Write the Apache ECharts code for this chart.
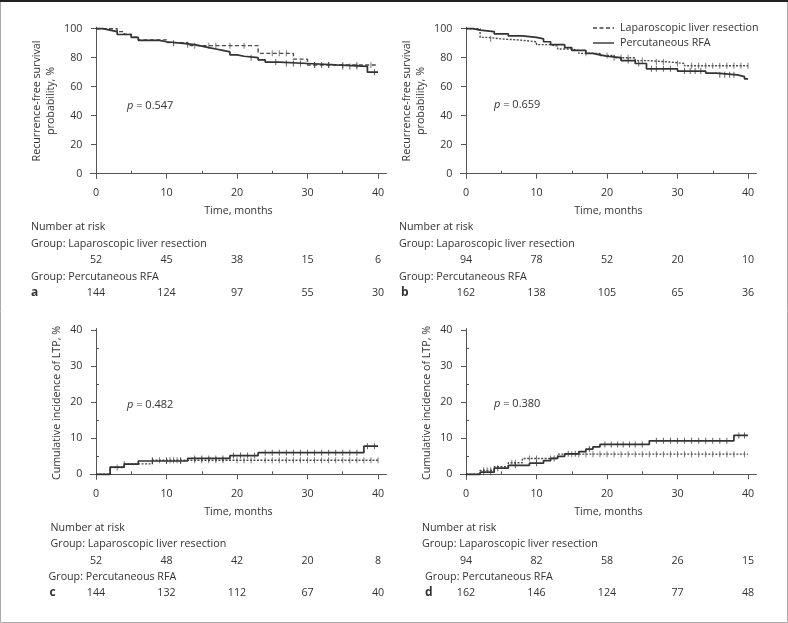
<!DOCTYPE html>
<html><head><meta charset="utf-8">
<script src="https://cdn.jsdelivr.net/npm/echarts@6/dist/echarts.min.js"></script>
<style>html,body{margin:0;padding:0;background:#fff}#c{width:788px;height:623px}</style>
</head><body><div id="c"></div>
<script>
// ---------- data ----------
const timeLabels = [0, 10, 20, 30, 40];
const timeMinor = [5, 15, 25, 35];
const rfsTicks = [0, 20, 40, 60, 80, 100];
const ltpTicks = [0, 10, 20, 30, 40];
const ltpMinor = [5, 15, 25, 35];

// Panel a: recurrence-free survival
const aLapT = [0, 3, 4, 5, 6, 10, 13, 23, 28, 30, 40];
const aLapV = [100, 98, 96.2, 94.2, 92.3, 90.4, 88.3, 83, 79, 75, 75];
const aRfaT = [0, 1, 2, 3, 5, 6, 9, 10, 12, 14, 15, 16, 17, 18, 19, 20, 21, 23, 24, 26, 30, 34, 38.5, 40];
const aRfaV = [100, 99, 98, 96, 94, 92, 91, 90, 89, 88, 87, 86, 85, 84, 82, 81, 80, 78.5, 77, 76, 75, 74, 70, 70];
const aLapC = [14, 16, 17, 19, 21, 25, 26, 27, 31, 33, 35, 37, 39];
const aRfaC = [11, 13, 22, 25.5, 27, 28, 29, 31, 32, 33, 35, 36, 37, 39.5];

// Panel b
const bLapT = [0, 2, 3, 5, 8, 10, 12, 13, 15, 16, 19, 21, 24, 26, 29, 31, 40];
const bLapV = [100, 94, 93, 92, 91, 89, 88, 86, 85, 83, 81.5, 80, 78, 77, 76, 74.5, 74.5];
const bRfaT = [0, 1, 2, 4, 6, 8, 10, 11, 12, 14, 15, 17, 18, 19, 20, 22, 24, 25.6, 30, 34, 35.5, 38.5, 39.5, 40];
const bRfaV = [100, 99, 98, 96.5, 95, 94, 93, 91, 89, 87, 85, 83, 82, 81, 80, 78, 76, 72.3, 70.8, 69.4, 68.2, 67, 65.4, 65.4];
const bLapC = [3.5, 17, 20, 22, 23, 25, 27, 28, 30, 32, 33, 34, 35, 36, 37, 38, 39, 40];
const bRfaC = [21, 23, 24.5, 26.3, 27, 28, 29, 31, 31.8, 32.5, 33.3, 36, 36.7, 37.4, 38];

// Panel c: cumulative incidence of LTP
const cLapT = [0, 2, 4, 8, 40];
const cLapV = [0, 1.9, 2.9, 3.9, 3.9];
const cRfaT = [0, 2, 4, 6, 13, 19, 23, 38, 40];
const cRfaV = [0, 2.0, 2.8, 3.7, 4.4, 5.2, 6.0, 7.8, 7.8];
const cLapC = [3, 8, 9, 10, 10.5, 11, 11.5, 12, 14, 15, 16, 17, 18, 20, 21, 22, 24, 25, 26, 27, 28, 29, 30, 31, 32, 33, 34, 35, 36, 37, 38, 39, 40];
const cRfaC = [4, 8, 10, 12, 14, 15, 16, 17, 18, 19.5, 20.5, 21.5, 22.5, 24, 25, 26, 27, 28, 29, 30, 31, 32, 33, 34, 35, 36, 37, 38.5, 39.5];

// Panel d
const dLapT = [0, 2, 4, 6, 8, 13, 40];
const dLapV = [0, 1.1, 2.1, 3.2, 4.4, 5.6, 5.6];
const dRfaT = [0, 2, 4, 6, 9, 11, 12, 13, 14, 16, 17, 18, 19, 26, 38, 40];
const dRfaV = [0, 0.6, 1.7, 2.5, 3.1, 3.8, 4.4, 5.0, 5.7, 6.3, 7.0, 7.6, 8.3, 9.3, 10.8, 10.8];
const dLapC = [2.5, 3, 3.5, 6.5, 7, 9, 10, 12, 15, 16, 17, 18, 19, 20, 21, 22, 23, 24, 25, 26, 27, 28, 29, 30, 31, 32, 33, 34, 35, 36, 37, 38, 39.5];
const dRfaC = [2.5, 3.5, 4.5, 7, 10, 12.5, 14.5, 15.5, 17.5, 19.7, 20.6, 21.5, 22.3, 23.2, 24, 25, 27, 28, 29, 30, 31, 32, 33, 34, 35, 36, 37, 38.7, 39.5];

// Numbers at risk
const riskA_lap = [52, 45, 38, 15, 6];
const riskA_rfa = [144, 124, 97, 55, 30];
const riskB_lap = [94, 78, 52, 20, 10];
const riskB_rfa = [162, 138, 105, 65, 36];
const riskC_lap = [52, 48, 42, 20, 8];
const riskC_rfa = [144, 132, 112, 67, 40];
const riskD_lap = [94, 82, 58, 26, 15];
const riskD_rfa = [162, 146, 124, 77, 48];

const pValues = ['0.547', '0.659', '0.482', '0.380'];
const panelLetters = ['a', 'b', 'c', 'd'];
const groupLap = 'Laparoscopic liver resection';
const groupRfa = 'Percutaneous RFA';

// ---------- layout ----------
const FONT = '"Open Sans", "Noto Sans", sans-serif';
const FS = 10.7;
const TXT = '#333';
const AX = '#555';
const pxm = 7.05;
const panels = [
  {x0: 96,  top: 27.25, h: 151.1, ymin: -3.2, ymax: 101, yt: rfsTicks, ym: null,
   lap: [aLapT, aLapV, aLapC], rfa: [aRfaT, aRfaV, aRfaC], dash: [4, 2.5], risk: [riskA_lap, riskA_rfa]},
  {x0: 466, top: 27.25, h: 151.1, ymin: -3.2, ymax: 101, yt: rfsTicks, ym: null,
   lap: [bLapT, bLapV, bLapC], rfa: [bRfaT, bRfaV, bRfaC], dash: [2, 1.5], risk: [riskB_lap, riskB_rfa]},
  {x0: 96,  top: 328.5, h: 150.84, ymin: -1.4, ymax: 40.5, yt: ltpTicks, ym: ltpMinor,
   lap: [cLapT, cLapV, cLapC], rfa: [cRfaT, cRfaV, cRfaC], dash: [2, 1.5], risk: [riskC_lap, riskC_rfa]},
  {x0: 466, top: 328.5, h: 150.84, ymin: -1.4, ymax: 40.5, yt: ltpTicks, ym: ltpMinor,
   lap: [dLapT, dLapV, dLapC], rfa: [dRfaT, dRfaV, dRfaC], dash: [2, 1.5], risk: [riskD_lap, riskD_rfa]}
];

function valueAt(T, V, t) {
  let v = V[0];
  for (let i = 0; i < T.length; i++) { if (T[i] <= t) v = V[i]; }
  return v;
}

const grid = [], xAxis = [], yAxis = [], series = [];
panels.forEach((p, g) => {
  grid.push({left: p.x0 - 0.8 * pxm, top: p.top, width: 42 * pxm, height: p.h});
  xAxis.push({
    gridIndex: g, type: 'value', min: -0.8, max: 41.2,
    name: 'Time, months', nameLocation: 'middle', nameGap: 27,
    nameTextStyle: {fontFamily: FONT, fontSize: FS, color: TXT},
    axisLine: {show: true, lineStyle: {color: AX, width: 1}},
    axisTick: {show: true, length: 5, lineStyle: {color: AX}, customValues: timeLabels},
    axisLabel: {show: true, margin: 9, fontFamily: FONT, fontSize: FS, color: TXT, customValues: timeLabels},
    splitLine: {show: false}
  });
  xAxis.push({
    gridIndex: g, type: 'value', min: -0.8, max: 41.2,
    axisLine: {show: false},
    axisTick: {show: true, length: 3, lineStyle: {color: AX}, customValues: timeMinor},
    axisLabel: {show: false}, splitLine: {show: false}
  });
  yAxis.push({
    gridIndex: g, type: 'value', min: p.ymin, max: p.ymax,
    axisLine: {show: true, lineStyle: {color: AX, width: 1}},
    axisTick: {show: true, length: 5, lineStyle: {color: AX}, customValues: p.yt},
    axisLabel: {show: true, margin: 8, fontFamily: FONT, fontSize: FS, color: TXT, customValues: p.yt},
    splitLine: {show: false}
  });
  yAxis.push({
    gridIndex: g, type: 'value', min: p.ymin, max: p.ymax,
    axisLine: {show: false},
    axisTick: {show: !!p.ym, length: 3, lineStyle: {color: AX}, customValues: p.ym || []},
    axisLabel: {show: false}, splitLine: {show: false}
  });
  const xi = 2 * g, yi = 2 * g;
  const mk = (T, V) => T.map((t, i) => [t, V[i]]);
  series.push({
    type: 'line', xAxisIndex: xi, yAxisIndex: yi, step: 'end', showSymbol: false, z: 2,
    data: mk(p.lap[0], p.lap[1]),
    lineStyle: {color: '#4a4a4a', width: 1.4, type: p.dash}
  });
  series.push({
    type: 'scatter', xAxisIndex: xi, yAxisIndex: yi, symbol: 'rect', symbolSize: [1, 6], z: 2,
    data: p.lap[2].map(t => [t, valueAt(p.lap[0], p.lap[1], t)]),
    itemStyle: {color: '#5a5a5a'}
  });
  series.push({
    type: 'line', xAxisIndex: xi, yAxisIndex: yi, step: 'end', showSymbol: false, z: 3,
    data: mk(p.rfa[0], p.rfa[1]),
    lineStyle: {color: '#333', width: 1.7, type: 'solid'}
  });
  series.push({
    type: 'scatter', xAxisIndex: xi, yAxisIndex: yi, symbol: 'rect', symbolSize: [1, 6], z: 3,
    data: p.rfa[2].map(t => [t, valueAt(p.rfa[0], p.rfa[1], t)]),
    itemStyle: {color: '#3a3a3a'}
  });
});

const chart = echarts.init(document.getElementById('c'), null, {renderer: 'canvas'});
chart.setOption({animation: false, backgroundColor: '#fff', grid, xAxis, yAxis, series});

// ---------- text / annotations ----------
const G = [];
function txt(text, x, y, opt) {
  opt = opt || {};
  G.push({type: 'text', x: x, y: y, rotation: opt.rot || 0, z: 10,
    style: {text: text, x: 0, y: 0, fontFamily: FONT, fontSize: opt.size || FS,
      fontWeight: opt.bold ? 'bold' : 'normal', fill: TXT,
      align: opt.align || 'left', verticalAlign: 'middle', lineHeight: opt.lh || 14}});
}
// Border
G.push({type: 'rect', shape: {x: 0.5, y: 0.5, width: 787, height: 622}, style: {fill: 'none', stroke: '#aaa', lineWidth: 1}, z: 20});
G.push({type: 'line', shape: {x1: 0, y1: 1, x2: 788, y2: 1}, style: {stroke: '#222', lineWidth: 2}, z: 21});

// Y axis titles
txt('Recurrence-free survival\nprobability, %', 44, 101, {rot: Math.PI / 2, align: 'center'});
txt('Recurrence-free survival\nprobability, %', 414, 101, {rot: Math.PI / 2, align: 'center'});
txt('Cumulative incidence of LTP, %', 57, 403, {rot: Math.PI / 2, align: 'center'});
txt('Cumulative incidence of LTP, %', 427, 403, {rot: Math.PI / 2, align: 'center'});

// p values
const pPos = [[127, 105.5], [494, 104.5], [127, 405], [494, 404]];
pValues.forEach((pv, i) => {
  G.push({type: 'text', x: pPos[i][0], y: pPos[i][1], z: 10,
    style: {text: '{i|p} = ' + pv, x: 0, y: 0, fontFamily: FONT, fontSize: 11, fill: TXT, verticalAlign: 'middle',
      rich: {i: {fontStyle: 'italic', fontFamily: FONT, fontSize: 11, fill: TXT}}}});
});

// Legend
G.push({type: 'line', shape: {x1: 593, y1: 28, x2: 614, y2: 28}, style: {stroke: '#444', lineWidth: 1.4, lineDash: [4, 2.5]}, z: 10});
G.push({type: 'line', shape: {x1: 593, y1: 43, x2: 614, y2: 43}, style: {stroke: '#333', lineWidth: 1.4}, z: 10});
txt(groupLap, 620, 28);
txt(groupRfa, 620, 43);

// Number-at-risk tables
const tableLayout = [
  {nar: [31, 227], glap: [31, 244], nums1: 260, grfa: [31, 277], let: [31, 293], nums2: 293},
  {nar: [399, 227], glap: [399, 244], nums1: 260, grfa: [399, 277], let: [401, 293], nums2: 293},
  {nar: [50.5, 528], glap: [50.5, 544], nums1: 561, grfa: [48.5, 577], let: [49.5, 593], nums2: 593},
  {nar: [422, 528], glap: [422, 544], nums1: 561, grfa: [425, 577], let: [425, 593], nums2: 593}
];
panels.forEach((p, g) => {
  const L = tableLayout[g];
  txt('Number at risk', L.nar[0], L.nar[1]);
  txt('Group: ' + groupLap, L.glap[0], L.glap[1]);
  txt('Group: ' + groupRfa, L.grfa[0], L.grfa[1]);
  txt(panelLetters[g], L.let[0], L.let[1], {bold: true, size: 12});
  timeLabels.forEach((t, k) => {
    const x = chart.convertToPixel({xAxisIndex: 2 * g}, t);
    txt(String(p.risk[0][k]), x, L.nums1, {align: 'center'});
    txt(String(p.risk[1][k]), x, L.nums2, {align: 'center'});
  });
});

chart.setOption({graphic: G});
</script>
</body></html>
